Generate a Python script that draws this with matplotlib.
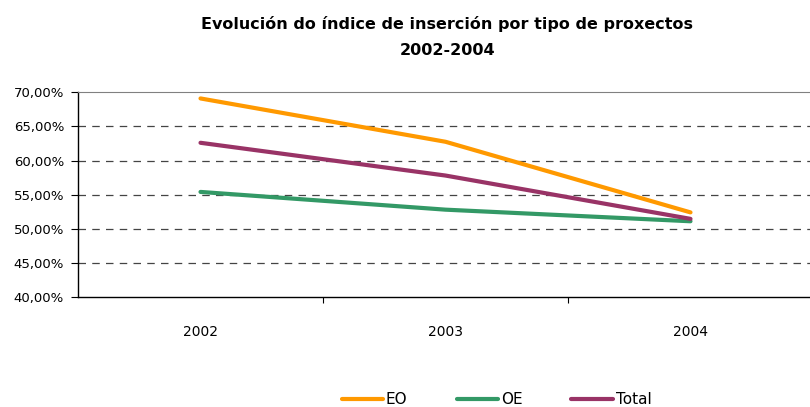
import matplotlib
matplotlib.use("Agg")
import matplotlib.pyplot as plt
from matplotlib.ticker import FuncFormatter

years = ["2002", "2003", "2004"]
eo = [69.1, 62.75, 52.4]
oe = [55.4, 52.8, 51.1]
total = [62.6, 57.8, 51.45]

series = [("EO", eo, "#FF9900"), ("OE", oe, "#339966"), ("Total", total, "#993366")]

fig = plt.figure(figsize=(8.1, 4.07), dpi=100)
ax = fig.add_axes([78 / 810, 110 / 407, 735 / 810, 204.7 / 407])

x = range(len(years))
for name, vals, col in series:
    ax.plot(x, vals, color=col, lw=3, solid_capstyle="round", label=name)

ax.set_xlim(-0.5, 2.5)
ax.set_ylim(40, 70)
ax.set_yticks(range(40, 71, 5))
ax.yaxis.set_major_formatter(FuncFormatter(lambda v, p: f"{v:.2f}%".replace(".", ",")))
ax.set_xticks(list(x))
ax.set_xticklabels(years)
ax.set_xticks([0.5, 1.5], minor=True)
ax.tick_params(axis="x", which="major", length=0, pad=20, labelsize=10)
ax.tick_params(axis="x", which="minor", length=4, direction="out", width=0.8)
ax.tick_params(axis="y", length=5, width=0.8, labelsize=9.5, pad=5)

for yv in range(45, 70, 5):
    ax.axhline(yv, color="#444444", lw=0.9, ls=(0, (6, 5)), zorder=0)
ax.spines["top"].set_color("#808080")
ax.spines["right"].set_visible(False)
ax.spines["left"].set_linewidth(1.0)
ax.spines["bottom"].set_linewidth(1.0)

fig.text(0.552, 0.94, "Evolución do índice de inserción por tipo de proxectos",
         ha="center", va="center", fontsize=11.5, fontweight="bold")
fig.text(0.552, 0.877, "2002-2004", ha="center", va="center", fontsize=11.5, fontweight="bold")

fig.legend(loc="center", bbox_to_anchor=(0.613, 0.018), ncol=3, frameon=False,
           fontsize=11, handlelength=2.7, columnspacing=3.2, handletextpad=0.2)

fig.savefig("out.png", dpi=100)
